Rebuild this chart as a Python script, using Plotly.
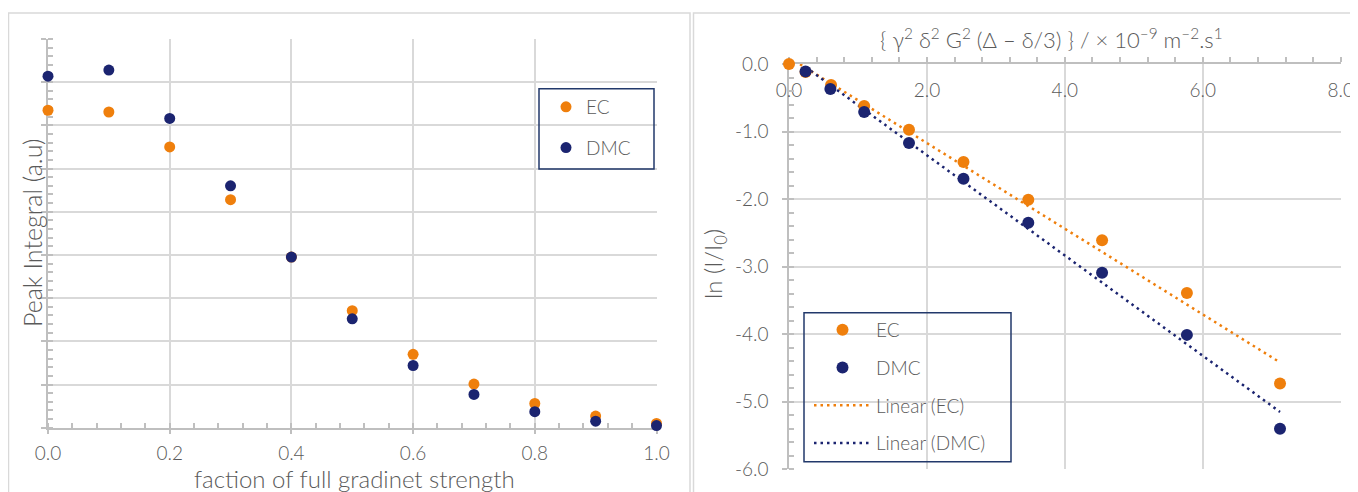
import numpy as np
import plotly.graph_objects as go

# ---------------- data ----------------
# Left chart: peak integral vs fraction of full gradient strength
frac = [0.0, 0.1, 0.2, 0.3, 0.4, 0.5, 0.6, 0.7, 0.8, 0.9, 1.0]
ec_peak = [7.35, 7.31, 6.50, 5.28, 3.95, 2.71, 1.70, 1.01, 0.56, 0.27, 0.10]
dmc_peak = [8.14, 8.28, 7.16, 5.60, 3.95, 2.52, 1.44, 0.77, 0.37, 0.15, 0.05]

# Right chart: ln(I/I0) vs gamma^2 delta^2 G^2 (Delta - delta/3)
ec_x = [0.0, 0.24, 0.61, 1.09, 1.74, 2.53, 3.47, 4.54, 5.77, 7.12]
ec_ln = [0.0, -0.12, -0.31, -0.62, -0.975, -1.45, -2.01, -2.61, -3.39, -4.73]
dmc_x = [0.24, 0.60, 1.09, 1.74, 2.53, 3.47, 4.54, 5.77, 7.12]
dmc_ln = [-0.11, -0.37, -0.71, -1.17, -1.70, -2.35, -3.09, -4.01, -5.40]

left_xticks = [0.0, 0.2, 0.4, 0.6, 0.8, 1.0]
left_xlabels = ["0.0", "0.2", "0.4", "0.6", "0.8", "1.0"]
right_xticks = [0, 2, 4, 6, 8]
right_xlabels = ["0.0", "2.0", "4.0", "6.0", "8.0"]
right_yticks = [0, -1, -2, -3, -4, -5, -6]
right_ylabels = ["0.0", "-1.0", "-2.0", "-3.0", "-4.0", "-5.0", "-6.0"]

# ---------------- styles ----------------
# the page body has an 8px margin, so the figure is drawn 8px in from the
# window corner; positions below are given in window pixels
OX, OY = 8, 8
W, H = 1358 - OX, 492 - OY
ORANGE = "#EF7F0C"
NAVY = "#1B2470"
GRID = "#D9D9D9"
AXIS = "#BFBFBF"
TXT = "#5A5A5A"
FONT = "Lato"
WEIGHT = 300
BOX = "#22396B"


def xp(px):
    return (px - OX) / W


def yp(py):
    return 1 - (py - OY) / H


def linfit(x, y):
    a, b = np.polyfit(np.asarray(x, float), np.asarray(y, float), 1)
    xs = np.array([min(x), max(x)])
    return xs, a * xs + b


def tfont(size):
    return dict(family=FONT, size=size, color=TXT, weight=WEIGHT)


fig = go.Figure()

# left chart
fig.add_trace(go.Scatter(x=frac, y=ec_peak, mode="markers", name="EC",
                         marker=dict(color=ORANGE, size=11), cliponaxis=False,
                         xaxis="x", yaxis="y", legend="legend", legendgroup="a", legendrank=1))
fig.add_trace(go.Scatter(x=frac, y=dmc_peak, mode="markers", name="DMC",
                         marker=dict(color=NAVY, size=11), cliponaxis=False,
                         xaxis="x", yaxis="y", legend="legend", legendgroup="b", legendrank=2))

# right chart: trend lines first so markers sit on top
ex, ey = linfit(ec_x, ec_ln)
dx, dy = linfit(dmc_x, dmc_ln)
fig.add_trace(go.Scatter(x=ex, y=ey, mode="lines", name="Linear (EC)",
                         line=dict(color=ORANGE, width=2.5, dash="2.5px,4px"),
                         xaxis="x2", yaxis="y2", legend="legend2", legendgroup="e", legendrank=3))
fig.add_trace(go.Scatter(x=dx, y=dy, mode="lines", name="Linear (DMC)",
                         line=dict(color=NAVY, width=2.5, dash="2.5px,4px"),
                         xaxis="x2", yaxis="y2", legend="legend2", legendgroup="f", legendrank=4))
fig.add_trace(go.Scatter(x=ec_x, y=ec_ln, mode="markers", name="EC",
                         marker=dict(color=ORANGE, size=12), cliponaxis=False,
                         xaxis="x2", yaxis="y2", legend="legend2", legendgroup="c", legendrank=1))
fig.add_trace(go.Scatter(x=dmc_x, y=dmc_ln, mode="markers", name="DMC",
                         marker=dict(color=NAVY, size=12), cliponaxis=False,
                         xaxis="x2", yaxis="y2", legend="legend2", legendgroup="d", legendrank=2))

common_axis = dict(showgrid=True, gridcolor=GRID, gridwidth=1.5, showline=True,
                   linecolor=AXIS, linewidth=1.5, zeroline=False, automargin=False,
                   ticks="outside", ticklen=5, tickwidth=1.5, tickcolor=AXIS,
                   tickfont=tfont(19), fixedrange=True, layer="below traces")

fig.update_layout(
    width=W, height=H,
    margin=dict(l=0, r=0, t=0, b=0, pad=0, autoexpand=False),
    paper_bgcolor="white", plot_bgcolor="white",
    font=dict(family=FONT, color=TXT),
    showlegend=True,
    xaxis=dict(domain=[xp(48), xp(656.5)], range=[0, 1], anchor="y",
               tickmode="array", tickvals=left_xticks, ticktext=left_xlabels,
               ticklabelstandoff=3,
               minor=dict(dtick=0.04, ticks="inside", ticklen=5, tickwidth=1.5,
                          tickcolor=AXIS, showgrid=False),
               **common_axis),
    yaxis=dict(domain=[yp(427.7), yp(39)], range=[0, 9], anchor="x",
               dtick=1, tick0=0, showticklabels=False,
               minor=dict(dtick=0.2, ticks="inside", ticklen=5, tickwidth=1.5,
                          tickcolor=AXIS, showgrid=False),
               **common_axis),
    xaxis2=dict(domain=[xp(789), xp(1340.7)], range=[0, 8], anchor="y2",
                side="top", ticklabelposition="inside", ticklabeloverflow="allow",
                ticklabelstandoff=21,
                tickmode="array", tickvals=right_xticks, ticktext=right_xlabels,
                minor=dict(dtick=0.4, ticks="outside", ticklen=5, tickwidth=1.5,
                           tickcolor=AXIS, showgrid=False),
                **common_axis),
    yaxis2=dict(domain=[yp(469.3), yp(64)], range=[-6, 0], anchor="x2",
                tickmode="array", tickvals=right_yticks, ticktext=right_ylabels,
                ticklabelstandoff=10,
                minor=dict(dtick=0.2, ticks="inside", ticklen=5, tickwidth=1.5,
                           tickcolor=AXIS, showgrid=False),
                **common_axis),
    legend=dict(x=xp(546), y=yp(88), xanchor="left", yanchor="top",
                bgcolor="rgba(0,0,0,0)", borderwidth=0,
                font=tfont(19), tracegroupgap=13, itemwidth=30,
                traceorder="grouped"),
    legend2=dict(x=xp(809), y=yp(311), xanchor="left", yanchor="top",
                 bgcolor="rgba(0,0,0,0)", borderwidth=0,
                 font=tfont(19), tracegroupgap=10, itemwidth=57,
                 traceorder="grouped"),
)

# panel frames and legend boxes
shapes = [
    dict(type="rect", xref="paper", yref="paper", x0=xp(8.5), x1=xp(690), y0=yp(500), y1=yp(13),
         line=dict(color=GRID, width=1.5), layer="below"),
    dict(type="rect", xref="paper", yref="paper", x0=xp(693.5), x1=xp(1362), y0=yp(500), y1=yp(13),
         line=dict(color=GRID, width=1.5), layer="below"),
    dict(type="rect", xref="paper", yref="paper", x0=xp(539), x1=xp(654), y0=yp(169), y1=yp(88.7),
         line=dict(color=BOX, width=1.5)),
    dict(type="rect", xref="paper", yref="paper", x0=xp(804), x1=xp(1011), y0=yp(461.7), y1=yp(312.7),
         line=dict(color=BOX, width=1.5)),
]
fig.update_layout(shapes=shapes)

annotations = [
    dict(text="Peak Integral (a.u)", x=xp(32), y=yp(233), textangle=-90, size=25),
    dict(text="faction of full gradinet strength", x=xp(354), y=yp(478), size=24),
    dict(text="ln (I/I<sub>0</sub>)", x=xp(714), y=yp(264), textangle=-90, size=24),
    dict(text="{ γ<sup>2</sup> δ<sup>2</sup> G<sup>2</sup> (Δ – δ/3) } / × 10<sup>–9</sup> m<sup>–2</sup>.s<sup>1</sup>",
         x=xp(1051), y=yp(38), size=22),
]
fig.update_layout(annotations=[
    dict(text=a["text"], x=a["x"], y=a["y"], xref="paper", yref="paper",
         xanchor="center", yanchor="middle", showarrow=False,
         textangle=a.get("textangle", 0), font=tfont(a["size"]))
    for a in annotations
])

fig.write_html("out.html")
